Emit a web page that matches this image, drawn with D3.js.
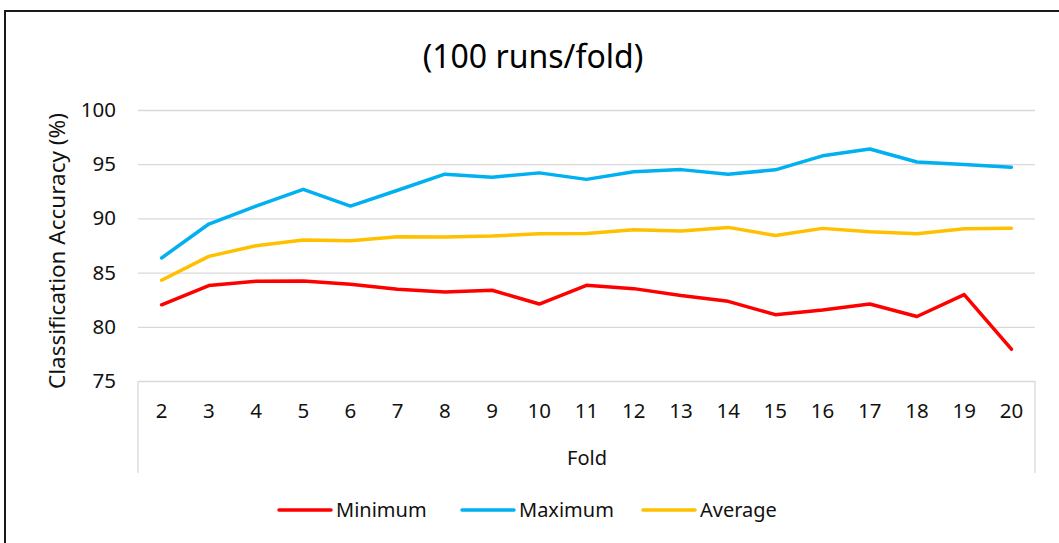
<!DOCTYPE html>
<html>
<head>
<meta charset="utf-8">
<script src="https://cdn.jsdelivr.net/npm/d3@7/dist/d3.min.js"></script>
<style>
  html, body { margin: 0; padding: 0; background: #fff; }
  svg { display: block; font-family: "Noto Sans", "Open Sans", sans-serif; }
</style>
</head>
<body>
<svg id="chart" width="1059" height="543"></svg>
<script>
const folds = ["2","3","4","5","6","7","8","9","10","11","12","13","14","15","16","17","18","19","20"];
const minimum = [82.03, 83.8, 84.2, 84.23, 83.92, 83.46, 83.2, 83.37, 82.1, 83.83, 83.52, 82.88, 82.35, 81.12, 81.55, 82.1, 80.95, 82.97, 77.94];
const maximum = [86.35, 89.48, 91.14, 92.68, 91.14, 92.6, 94.08, 93.8, 94.2, 93.6, 94.3, 94.5, 94.08, 94.48, 95.77, 96.4, 95.2, 94.97, 94.72];
const average = [84.3, 86.5, 87.48, 88.0, 87.94, 88.3, 88.28, 88.37, 88.58, 88.6, 88.95, 88.83, 89.17, 88.43, 89.08, 88.77, 88.58, 89.05, 89.1];
const yTicks = [75, 80, 85, 90, 95, 100];
const seriesNames = ["Minimum", "Maximum", "Average"];
const seriesColors = ["#FF0000", "#00B0F0", "#FFC000"];
const title = "(100 runs/fold)";
const xTitle = "Fold";
const yTitle = "Classification Accuracy (%)";

const series = [minimum, maximum, average];
const svg = d3.select("#chart");

const plotLeft = 138, plotRight = 1035, plotTop = 110, plotBottom = 381;

// outer border
svg.append("rect").attr("x", 5).attr("y", 11).attr("width", 1070).attr("height", 560)
  .attr("fill", "none").attr("stroke", "#1a1a1a").attr("stroke-width", 2);

const x = d3.scaleBand().domain(folds).range([plotLeft, plotRight]).padding(0);
const y = d3.scaleLinear().domain([75, 100]).range([plotBottom, plotTop]);

// gridlines + y labels
const yAxis = svg.append("g").attr("transform", `translate(${plotLeft},0)`)
  .call(d3.axisLeft(y).tickValues(yTicks).tickSize(-(plotRight - plotLeft)).tickPadding(22));
yAxis.select(".domain").remove();
yAxis.selectAll(".tick line").attr("stroke", "#D9D9D9").attr("stroke-width", 1.3);
yAxis.selectAll(".tick text").attr("font-size", 20.5).attr("fill", "#111")
  .attr("font-family", "Noto Sans");

// category axis box
svg.append("line").attr("x1", plotLeft).attr("x2", plotLeft).attr("y1", plotBottom).attr("y2", 473)
  .attr("stroke", "#D9D9D9").attr("stroke-width", 1.3);
svg.append("line").attr("x1", plotRight).attr("x2", plotRight).attr("y1", plotBottom).attr("y2", 473)
  .attr("stroke", "#D9D9D9").attr("stroke-width", 1.3);

const xAxis = svg.append("g").attr("transform", `translate(0,${plotBottom})`)
  .call(d3.axisBottom(x).tickSize(0).tickPadding(22));
xAxis.select(".domain").remove();
xAxis.selectAll(".tick text").attr("font-size", 20.5).attr("fill", "#111")
  .attr("font-family", "Noto Sans");

// lines
const line = d3.line().x((d, i) => x(folds[i]) + x.bandwidth() / 2).y(d => y(d));
series.forEach((s, k) => {
  svg.append("path").datum(s).attr("d", line).attr("fill", "none")
    .attr("stroke", seriesColors[k]).attr("stroke-width", 3.5)
    .attr("stroke-linejoin", "round").attr("stroke-linecap", "round");
});

// titles
svg.append("text").attr("x", 533).attr("y", 68).attr("text-anchor", "middle")
  .attr("font-size", 32).attr("fill", "#000").text(title);
svg.append("text").attr("x", 587).attr("y", 465).attr("text-anchor", "middle")
  .attr("font-size", 20).attr("fill", "#111").text(xTitle);
svg.append("text").attr("transform", "translate(65,251) rotate(-90)").attr("text-anchor", "middle")
  .attr("font-size", 22.5).attr("fill", "#111").text(yTitle);

// legend
const legendX = [279, 462, 643];
seriesNames.forEach((n, k) => {
  const g = svg.append("g").attr("transform", `translate(${legendX[k]},510)`);
  g.append("line").attr("x1", 0).attr("x2", 52).attr("y1", 0).attr("y2", 0)
    .attr("stroke", seriesColors[k]).attr("stroke-width", 3.5).attr("stroke-linecap", "round");
  g.append("text").attr("x", 57).attr("y", 7).attr("font-size", 20).attr("fill", "#111").text(n);
});
</script>
</body>
</html>
